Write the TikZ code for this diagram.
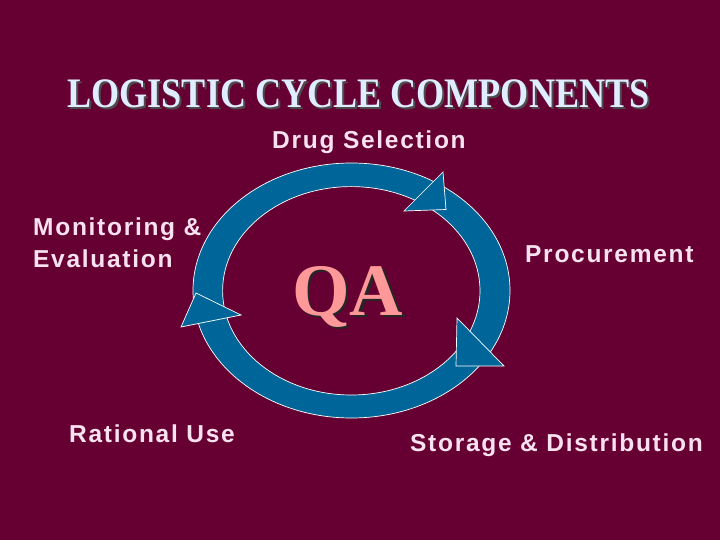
\documentclass[tikz,border=0pt]{standalone}
\usepackage{fontspec}
\setmainfont{Liberation Serif}
\newfontfamily\labelfont[LetterSpace=7]{Liberation Sans}
\newfontfamily\titlefont{Liberation Serif}
\definecolor{bg}{RGB}{102,0,51}
\definecolor{ring}{RGB}{0,102,153}
\definecolor{lbl}{RGB}{248,226,240}
\definecolor{ttl}{RGB}{224,236,255}
\definecolor{qapink}{RGB}{255,153,153}
\tikzset{
  lab/.style={inner sep=0pt, anchor=base west, text=lbl, font=\labelfont\bfseries\fontsize{24.5}{24.5}\selectfont},
  ttlstyle/.style={inner sep=0pt, anchor=base, font=\titlefont\bfseries\fontsize{42}{42}\selectfont, xscale=0.86, transform shape},
  qastyle/.style={inner sep=0pt, anchor=base west, font=\titlefont\bfseries\fontsize{74}{74}\selectfont},
  ringfill/.style={fill=ring, draw=white, line width=0.7pt},
}
\begin{document}
\begin{tikzpicture}[x=1pt,y=-1pt]
\fill[bg] (0,0) rectangle (720,540);
\useasboundingbox (0,0) rectangle (720,540);
% title
\node[ttlstyle, text=black!70] (titleshadow) at (360.5,110) {LOGISTIC CYCLE COMPONENTS};
\node[ttlstyle, text=ttl] (title) at (358.5,108) {LOGISTIC CYCLE COMPONENTS};
% ring
\path[ringfill, even odd rule] (351.5,290.5) ellipse [x radius=158.5, y radius=127.5]
  (351.3,290.8) ellipse [x radius=128.7, y radius=104.2];
% arrowheads
\path[ringfill, line join=miter] (443,172) -- (404,211) -- (446,209.5) -- cycle;
\path[ringfill, line join=miter] (457,318) -- (504,366) -- (456,366) -- cycle;
\path[ringfill, line join=miter] (196,293) -- (241,315) -- (181,327) -- cycle;
% QA
\node[qastyle, text=black!85] (qashadow) at (294.5,317.5) {QA};
\node[qastyle, text=qapink] (qa) at (292,315) {QA};
% labels
\node[lab] (drug) at (272,149) {Drug Selection};
\node[lab] (mon1) at (33,236) {Monitoring \&};
\node[lab] (mon2) at (33,267) {Evaluation};
\node[lab] (proc) at (525,262) {Procurement};
\node[lab] (rat) at (69,442) {Rational Use};
\node[lab] (stor) at (410,451) {Storage \& Distribution};
\end{tikzpicture}
\end{document}
